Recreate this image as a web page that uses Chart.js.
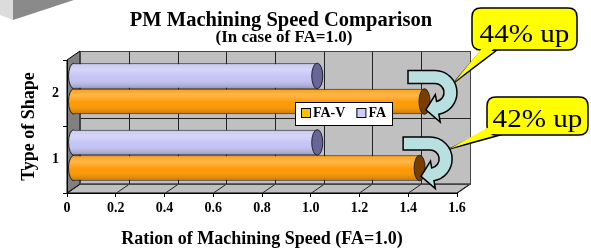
<!DOCTYPE html>
<html>
<head>
<meta charset="utf-8">
<script src="https://cdn.jsdelivr.net/npm/chart.js@4/dist/chart.umd.min.js"></script>
<style>
html, body { margin: 0; padding: 0; background: #fff; }
</style>
</head>
<body>
<canvas id="speedChart" width="591" height="250"></canvas>
<script>
// Datos del gráfico
const shapes = ['2', '1'];
const faValues = [1.0, 1.0];
const favValues = [1.44, 1.42];
const xTickValues = [0, 0.2, 0.4, 0.6, 0.8, 1.0, 1.2, 1.4, 1.6];

const serif = "'Liberation Serif', 'Times New Roman', serif";
Chart.defaults.font.family = serif;
Chart.defaults.color = '#000';

// profundidad del efecto 3D
const depth = { x: 13, y: -9 };
const half = { x: depth.x / 2, y: depth.y / 2 };
const capRx = 5.5;

// anotaciones (cajas amarillas)
const calloutBoxes = [
    { x: 472, y: 8, w: 105, h: 42, base: [[482, 50], [497, 50]] },
    { x: 487, y: 97, w: 101, h: 38, base: [[488, 130], [500, 135]] }
];
const arrowOffset = { x: 10.5, y: -9 };
const pointerTip = { x: 19, y: -10 };
const legendBox = { x: 295, y: 102, w: 97, h: 23 };

function poly(ctx, pts) {
    ctx.beginPath();
    ctx.moveTo(pts[0][0], pts[0][1]);
    pts.slice(1).forEach(p => ctx.lineTo(p[0], p[1]));
    ctx.closePath();
}

function roundBox(ctx, x, y, w, h, r) {
    ctx.beginPath();
    ctx.moveTo(x + r, y);
    ctx.lineTo(x + w - r, y);
    ctx.quadraticCurveTo(x + w, y, x + w, y + r);
    ctx.lineTo(x + w, y + h - r);
    ctx.quadraticCurveTo(x + w, y + h, x + w - r, y + h);
    ctx.lineTo(x + r, y + h);
    ctx.quadraticCurveTo(x, y + h, x, y + h - r);
    ctx.lineTo(x, y + r);
    ctx.quadraticCurveTo(x, y, x + r, y);
    ctx.closePath();
}

function drawTurnArrow(ctx, cx, cy) {
    const R = 22, r = 9, tail = 27, end = Math.PI * 80 / 180;
    const mid = (R + r) / 2;
    const pt = rad => [Math.cos(end) * rad, Math.sin(end) * rad];
    const tan = [-Math.sin(end), Math.cos(end)];
    ctx.save();
    ctx.translate(cx, cy);
    ctx.beginPath();
    ctx.moveTo(-tail, -R);
    ctx.lineTo(0, -R);
    ctx.arc(0, 0, R, -Math.PI / 2, end, false);
    ctx.lineTo(...pt(30));
    ctx.lineTo(pt(mid)[0] + tan[0] * 12, pt(mid)[1] + tan[1] * 12);
    ctx.lineTo(...pt(2));
    ctx.lineTo(...pt(r));
    ctx.arc(0, 0, r, end, -Math.PI / 2, true);
    ctx.lineTo(-tail, -r);
    ctx.closePath();
    ctx.fillStyle = '#b8e0e0';
    ctx.fill();
    ctx.lineWidth = 1.5;
    ctx.strokeStyle = '#000';
    ctx.stroke();
    ctx.restore();
}

// Paredes, piso y títulos
const wallsPlugin = {
    id: 'walls',
    beforeDraw(chart) {
        const { ctx, chartArea: a, scales: { x, y } } = chart;
        ctx.save();
        ctx.fillStyle = '#fff';
        ctx.fillRect(0, 0, chart.width, chart.height);

        // adorno de la esquina
        ctx.fillStyle = '#dcdcdc';
        poly(ctx, [[0, 0], [13, 0], [13, 20], [0, 15]]);
        ctx.fill();
        ctx.fillStyle = '#8a8a8a';
        poly(ctx, [[13, 0], [74, 0], [13, 20]]);
        ctx.fill();

        // títulos
        ctx.fillStyle = '#000';
        ctx.textAlign = 'center';
        ctx.font = 'bold 20.5px ' + serif;
        ctx.fillText('PM Machining Speed Comparison', 281, 26);
        ctx.font = 'bold 17px ' + serif;
        ctx.fillText('(In case of FA=1.0)', 284, 42);

        const dx = depth.x, dy = depth.y;
        ctx.lineWidth = 1;
        ctx.strokeStyle = '#000';

        // pared del fondo
        ctx.fillStyle = '#c0c0c0';
        ctx.fillRect(a.left + dx, a.top + dy, a.width, a.height);

        // piso
        poly(ctx, [[a.left, a.bottom], [a.right, a.bottom], [a.right + dx, a.bottom + dy], [a.left + dx, a.bottom + dy]]);
        ctx.fill();
        ctx.stroke();

        // pared izquierda
        ctx.fillStyle = '#808080';
        poly(ctx, [[a.left, a.top], [a.left + dx, a.top + dy], [a.left + dx, a.bottom + dy], [a.left, a.bottom]]);
        ctx.fill();
        ctx.stroke();

        // líneas de la cuadrícula
        ctx.strokeStyle = '#222';
        x.ticks.forEach(t => {
            const px = Math.round(x.getPixelForValue(t.value)) + 0.5;
            ctx.beginPath();
            ctx.moveTo(px + dx, a.top + dy);
            ctx.lineTo(px + dx, a.bottom + dy);
            ctx.moveTo(px, a.bottom);
            ctx.lineTo(px + dx, a.bottom + dy);
            ctx.stroke();
        });
        for (let i = 1; i < shapes.length; i++) {
            const py = Math.round((y.getPixelForValue(i - 1) + y.getPixelForValue(i)) / 2) + 0.5;
            ctx.beginPath();
            ctx.moveTo(a.left + dx, py + dy);
            ctx.lineTo(a.right + dx, py + dy);
            ctx.stroke();
        }
        ctx.strokeStyle = '#444';
        ctx.strokeRect(a.left + dx + 0.5, a.top + dy + 0.5, a.width, a.height);
        ctx.restore();
    },
    beforeDatasetsDraw(chart) {
        chart.ctx.save();
        chart.ctx.translate(half.x, half.y);
    },
    afterDatasetsDraw(chart) {
        const ctx = chart.ctx;
        chart.data.datasets.forEach((ds, di) => {
            chart.getDatasetMeta(di).data.forEach(bar => {
                const { x, y, base, height } = bar.getProps(['x', 'y', 'base', 'height'], true);
                const top = y - height / 2;
                const g = ctx.createLinearGradient(0, top, 0, top + height);
                g.addColorStop(0, 'rgba(255,255,255,0.05)');
                g.addColorStop(0.25, 'rgba(255,255,255,0.30)');
                g.addColorStop(0.55, 'rgba(255,255,255,0)');
                g.addColorStop(1, 'rgba(0,0,0,0.25)');

                ctx.fillStyle = g;
                ctx.fillRect(base, top + 1, x - base, height - 2);

                // extremo izquierdo redondeado
                ctx.beginPath();
                ctx.ellipse(base, y, capRx, height / 2, 0, Math.PI / 2, Math.PI * 1.5);
                ctx.closePath();
                ctx.fillStyle = ds.backgroundColor;
                ctx.fill();
                ctx.fillStyle = g;
                ctx.fill();
                ctx.beginPath();
                ctx.ellipse(base, y, capRx, height / 2, 0, Math.PI / 2, Math.PI * 1.5);
                ctx.lineWidth = 1;
                ctx.strokeStyle = ds.borderColor;
                ctx.stroke();

                // tapa del cilindro
                ctx.beginPath();
                ctx.ellipse(x, y, capRx, height / 2, 0, 0, Math.PI * 2);
                ctx.fillStyle = ds.capColor;
                ctx.fill();
                ctx.stroke();
            });
        });
        ctx.restore();
    },
    afterDraw(chart) {
        const ctx = chart.ctx;
        ctx.save();

        // flechas y cajas de anotación
        const favMeta = chart.getDatasetMeta(1);
        favMeta.data.forEach((bar, i) => {
            const cx = bar.x + half.x + arrowOffset.x;
            const cy = bar.y + half.y + arrowOffset.y;
            const box = calloutBoxes[i];
            const tip = [cx + pointerTip.x, cy + pointerTip.y];

            ctx.fillStyle = '#ffff00';
            ctx.strokeStyle = '#000';
            ctx.lineWidth = 1.5;
            poly(ctx, [box.base[0], tip, box.base[1]]);
            ctx.fill();
            ctx.stroke();

            drawTurnArrow(ctx, cx, cy);

            ctx.fillStyle = '#ffff00';
            ctx.lineWidth = 1.5;
            roundBox(ctx, box.x, box.y, box.w, box.h, 9);
            ctx.fill();
            ctx.stroke();
            poly(ctx, [[box.base[0][0] + 1, box.base[0][1] - 3], tip, [box.base[1][0] - 1, box.base[1][1] - 3]]);
            ctx.fill();

            const pct = Math.round((favValues[i] - faValues[i]) * 100);
            ctx.save();
            ctx.fillStyle = '#000';
            ctx.font = '26px ' + serif;
            ctx.textAlign = 'center';
            ctx.translate(box.x + box.w / 2, box.y + box.h - 8);
            ctx.scale(1.12, 1);
            ctx.fillText(pct + '% up', 0, 0);
            ctx.restore();
        });

        // leyenda
        const lb = legendBox;
        ctx.fillStyle = '#fff';
        ctx.fillRect(lb.x, lb.y, lb.w, lb.h);
        ctx.lineWidth = 1;
        ctx.strokeStyle = '#000';
        ctx.strokeRect(lb.x + 0.5, lb.y + 0.5, lb.w, lb.h);
        ctx.font = 'bold 14px ' + serif;
        ctx.textAlign = 'left';
        let lx = lb.x + 6;
        chart.data.datasets.slice().reverse().forEach(ds => {
            ctx.fillStyle = ds.legendColor;
            ctx.fillRect(lx, lb.y + 6, 9, 9);
            ctx.strokeRect(lx + 0.5, lb.y + 6.5, 9, 9);
            ctx.fillStyle = '#000';
            ctx.fillText(ds.label, lx + 12, lb.y + 15);
            lx += 12 + ctx.measureText(ds.label).width + 11;
        });
        ctx.restore();
    }
};

const ctx = document.getElementById('speedChart').getContext('2d');
new Chart(ctx, {
    type: 'bar',
    data: {
        labels: shapes,
        datasets: [{
            label: 'FA',
            data: faValues,
            backgroundColor: '#c4c4f6',
            borderColor: '#222',
            capColor: '#666699',
            legendColor: '#ccccff',
            borderWidth: 1,
            categoryPercentage: 0.77,
            barPercentage: 1.0,
            clip: false
        }, {
            label: 'FA-V',
            data: favValues,
            backgroundColor: '#ff9900',
            borderColor: '#222',
            capColor: '#7a3d00',
            legendColor: '#ffbf00',
            borderWidth: 1,
            categoryPercentage: 0.77,
            barPercentage: 1.0,
            clip: false
        }]
    },
    options: {
        indexAxis: 'y',
        responsive: false,
        animation: false,
        layout: { padding: { top: 60, right: 134, bottom: 0, left: 0 } },
        plugins: {
            legend: { display: false },
            title: { display: false },
            tooltip: { enabled: false }
        },
        scales: {
            x: {
                min: 0,
                max: 1.6,
                afterBuildTicks: axis => { axis.ticks = xTickValues.map(v => ({ value: v })); },
                afterFit: axis => { axis.height = 57; },
                grid: { drawOnChartArea: false, drawTicks: true, tickLength: 4, color: '#000' },
                border: { display: true, color: '#000' },
                ticks: { font: { size: 14, weight: 'bold' }, padding: 3, color: '#000', maxRotation: 0 },
                title: {
                    display: true,
                    text: 'Ration of Machining Speed (FA=1.0)',
                    font: { size: 18, weight: 'bold' },
                    padding: { top: 0, bottom: 0 }
                }
            },
            y: {
                afterFit: axis => { axis.width = 67; },
                grid: { drawOnChartArea: false, drawTicks: true, tickLength: 4, color: '#000', offset: true },
                border: { display: true, color: '#000' },
                ticks: { font: { size: 14, weight: 'bold' }, padding: 4, color: '#000' },
                title: {
                    display: true,
                    text: 'Type of Shape',
                    font: { size: 18, weight: 'bold' },
                    padding: { top: 19, bottom: 0 }
                }
            }
        }
    },
    plugins: [wallsPlugin]
});
</script>
</body>
</html>
